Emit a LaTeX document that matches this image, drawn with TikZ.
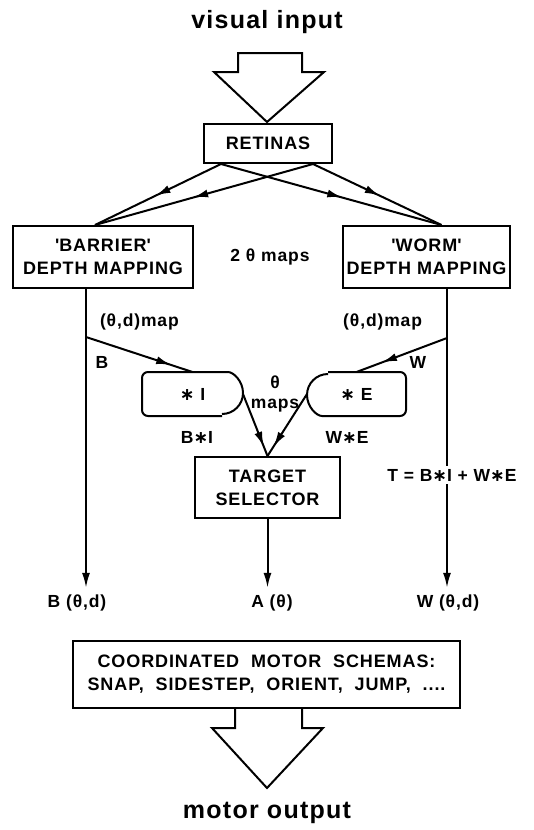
\documentclass[tikz,border=0pt]{standalone}
\usepackage{fontspec}
\setmainfont{Liberation Sans}[LetterSpace=5]
\newfontfamily\symfont{DejaVu Sans}
\usetikzlibrary{arrows.meta, calc, decorations.markings}
\newcommand{\cv}{{\symfont\bfseries ∗}}
\newcommand{\sq}{\textquotesingle}

\begin{document}
\begin{tikzpicture}[
        x=1pt, y=1pt, line width=2pt,
        box/.style={rectangle, draw, align=center, inner sep=2pt,
                    font=\fontsize{18}{23}\selectfont\bfseries},
        lbl/.style={align=center, inner sep=1pt, font=\fontsize{17.5}{20}\selectfont\bfseries},
        big/.style={font=\fontsize{25}{30}\selectfont\bfseries},
        arrow/.style={-{Latex[length=15pt, width=8pt]}},
        midarrow/.style={decoration={markings, mark=at position #1 with
                    {\arrow{Latex[length=15pt, width=8pt]}}}, postaction={decorate}},
        midarrow/.default=0.5
    ]
        \useasboundingbox (0,0) rectangle (534,-830);

        \node[big] (vin) at (267,-22) {visual input};
        \draw (238,-53) -- (302,-53) -- (302,-72) -- (324,-72) -- (267,-122)
            -- (214,-72) -- (238,-72) -- cycle;

        \node[box, minimum width=128pt, minimum height=39pt] (ret) at (268,-143.5) {RETINAS};
        \node[box, minimum width=180pt, minimum height=62pt] (bar) at (103,-257)
            {\sq BARRIER\sq\\DEPTH MAPPING};
        \node[box, minimum width=167pt, minimum height=62pt] (wor) at (426.5,-257)
            {\sq WORM\sq\\DEPTH MAPPING};
        \node[lbl] (two) at (270,-257) {2 θ maps};

        \coordinate (rl) at ($(ret.south west)+(18,0)$);
        \coordinate (rr) at ($(ret.south east)+(-20,0)$);
        \coordinate (bin) at ($(bar.north)+(-8,0)$);
        \coordinate (win) at ($(wor.north)+(15,0)$);
        \draw[midarrow=0.52] (rl) -- (bin);
        \draw[midarrow=0.55] (rl) -- (win);
        \draw[midarrow=0.55] (rr) -- (bin);
        \draw[midarrow=0.52] (rr) -- (win);

        \node[lbl, minimum width=99pt, minimum height=42pt] (ci) at (192.5,-394) {\cv\ I};
        \node[lbl, minimum width=97pt, minimum height=42pt] (ce) at (356.5,-394) {\cv\ E};
        \draw[rounded corners=6pt] ($(ci.south east)+(-21,0)$) -- (ci.south west) -- (ci.north west)
            -- ($(ci.north east)+(-21,0)$) arc[start angle=90, end angle=-90, radius=21pt];
        \draw[rounded corners=6pt] ($(ce.north west)+(21,0)$) -- (ce.north east) -- (ce.south east)
            -- ($(ce.south west)+(21,0)$) arc[start angle=-90, end angle=-270, radius=21pt];
        \node[lbl] (tm) at (275,-394) {θ\\maps};

        \node[box, minimum width=145pt, minimum height=61pt] (tgt) at (267.5,-487.5)
            {TARGET\\SELECTOR};

        \node[lbl] (bbot) at (77,-603) {B (θ,d)};
        \node[lbl] (abot) at (272,-603) {A (θ)};
        \node[lbl] (wbot) at (448,-603) {W (θ,d)};

        \coordinate (bx) at (86,-337);
        \coordinate (wx) at (447,-338);
        \draw[arrow] (bar.south -| bx) -- ($(bbot.north -| bx)+(0,5)$);
        \draw[arrow] (wor.south -| wx) -- ($(wbot.north -| wx)+(0,5)$);
        \draw[arrow] (tgt.south) -- ($(abot.north -| tgt.south)+(0,5)$);
        \draw[midarrow=0.8] (bx) -- (ci.north);
        \draw[midarrow=0.72] (wx) -- (ce.north);
        \draw[midarrow=0.85] (ci.east) -- (tgt.north);
        \draw[midarrow=0.85] (ce.west) -- (tgt.north);

        \node[lbl, anchor=west] (bmap) at (98,-322) {(θ,d)map};
        \node[lbl, anchor=east] (wmap) at (424,-322) {(θ,d)map};
        \node[lbl] (blab) at (102,-362) {B};
        \node[lbl] (wlab) at (418,-362) {W};
        \node[lbl] (bi) at (197,-437) {B\cv I};
        \node[lbl] (we) at (347,-437) {W\cv E};
        \node[lbl, fill=white, inner sep=3pt] (tsum) at (452,-475) {T = B\cv I + W\cv E};

        \node[box, minimum width=387pt, minimum height=67pt] (mot) at (266.5,-674.5)
            {COORDINATED~~MOTOR~~SCHEMAS:\\SNAP,~~SIDESTEP,~~ORIENT,~~JUMP,~~....};
        \draw (235,-708) -- (235,-728) -- (212,-728) -- (267,-788) -- (323,-728)
            -- (302,-728) -- (302,-708);
        \node[big] (mout) at (267,-813) {motor output};
    \end{tikzpicture}
\end{document}
